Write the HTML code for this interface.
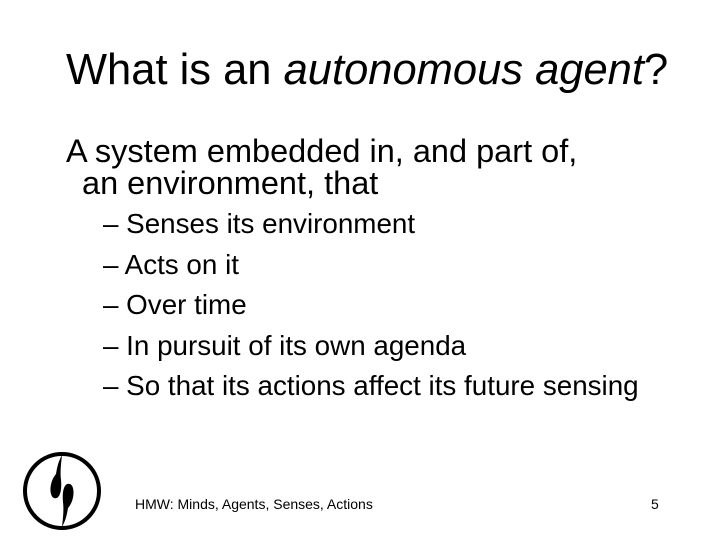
<!DOCTYPE html>
<html><head><meta charset="utf-8"><style>
body{margin:0;width:720px;height:540px;background:#fff;position:relative;overflow:hidden;font-family:"Liberation Sans",Arial,sans-serif;color:#000}
.t{position:absolute;white-space:nowrap;line-height:1}
</style></head><body>
<div class="t" style="left:66px;top:49px;font-size:43.5px">What is an <i>autonomous agent</i>?</div>
<div class="t" style="left:66px;top:135px;font-size:32.5px">A system embedded in, and part of,</div>
<div class="t" style="left:82px;top:167px;font-size:32.5px">an environment, that</div>
<div class="t" style="left:103px;top:210px;font-size:27.8px">– Senses its environment</div>
<div class="t" style="left:103px;top:251px;font-size:27.8px">– Acts on it</div>
<div class="t" style="left:103px;top:291px;font-size:27.8px">– Over time</div>
<div class="t" style="left:103px;top:332px;font-size:27.8px">– In pursuit of its own agenda</div>
<div class="t" style="left:103px;top:372px;font-size:27.8px">– So that its actions affect its future sensing</div>
<svg style="position:absolute;left:20px;top:450px" width="86" height="84" viewBox="0 0 86 84">
<circle cx="42" cy="41" r="37" fill="none" stroke="#000" stroke-width="4"/>
<path d="M42 5 C38 12,37 18,36 24 C29 32,29 46,34 48 C40 50,42 40,41 30 C40 22,41 14,42 5Z" fill="#000"/>
<path d="M42 77 C46 70,47 64,48 58 C55 50,55 36,50 34 C44 32,42 42,43 52 C44 60,43 68,42 77Z" fill="#000"/>
</svg>
<div class="t" style="left:135px;top:497px;font-size:14px">HMW: Minds, Agents, Senses, Actions</div>
<div class="t" style="left:651px;top:497px;font-size:14px">5</div>
</body></html>
